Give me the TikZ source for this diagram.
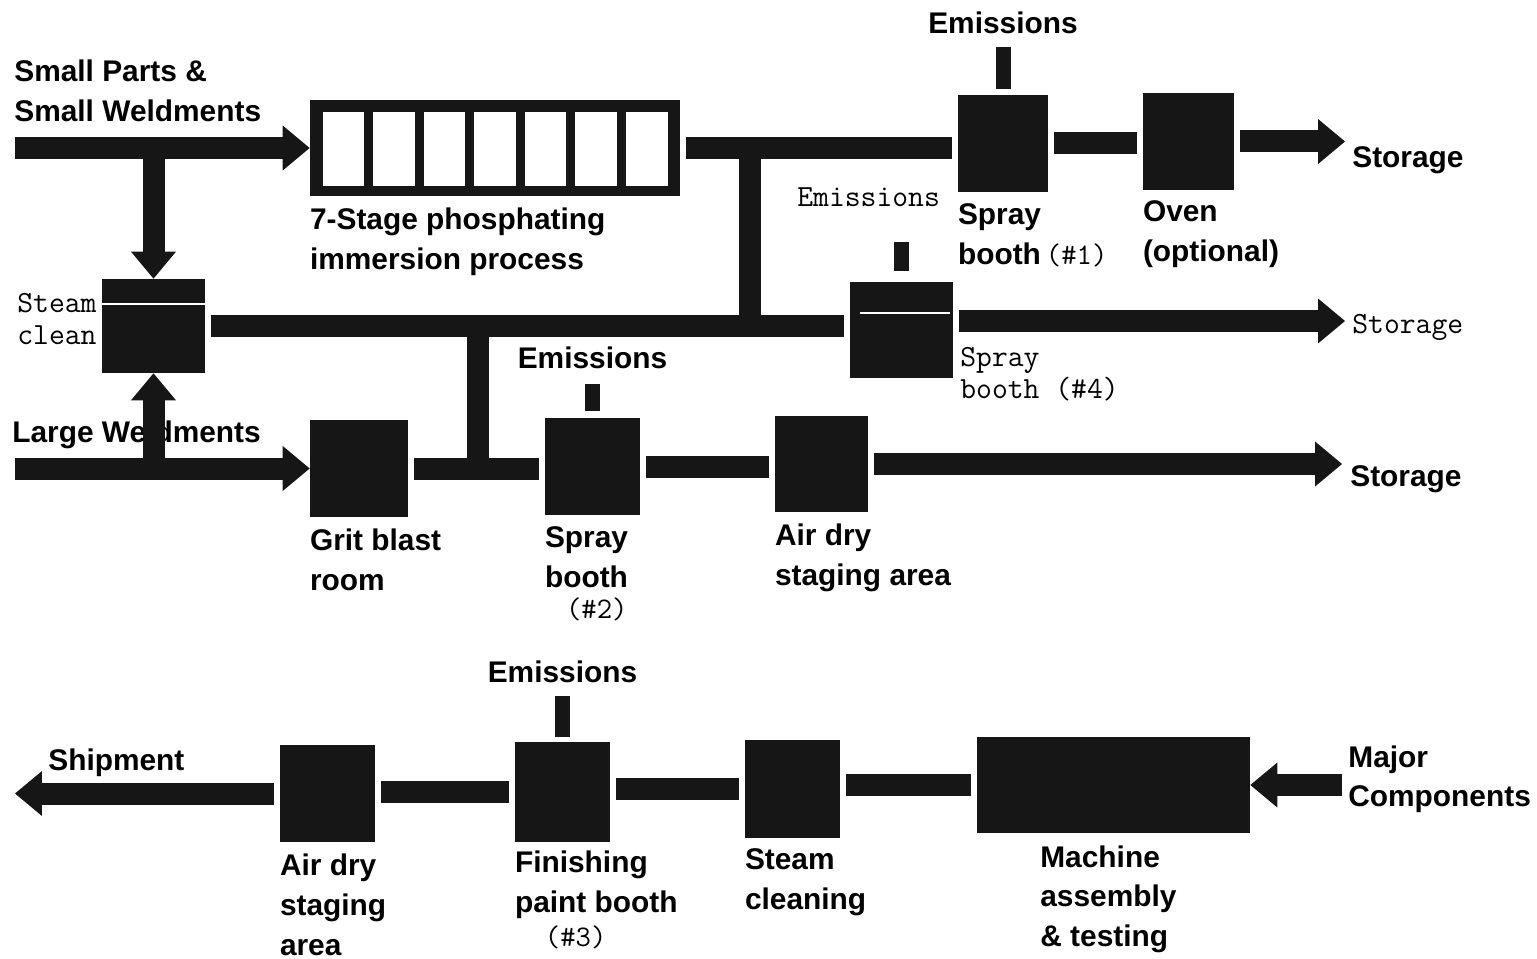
\documentclass[tikz,border=0pt]{standalone}
\usepackage{fontspec}
\setsansfont{Liberation Sans}
\usetikzlibrary{positioning,arrows.meta,calc}
\definecolor{ink}{HTML}{161616}

\begin{document}
\begin{tikzpicture}[x=0.02cm,y=-0.02cm,
  lb/.style={font=\sffamily\bfseries\fontsize{17}{22.7}\selectfont,align=left,inner sep=0pt},
  tl/.style={font=\ttfamily\fontsize{17.5}{18}\selectfont,align=left,inner sep=0pt},
  bx/.style={fill=ink,inner sep=0pt,minimum width=1.9cm,minimum height=1.94cm},
  stk/.style={fill=ink,inner sep=0pt,minimum width=3mm},
  bar/.style={ink,line width=4.4mm},
  ln/.style={bar,shorten <=1.2mm,shorten >=1.2mm},
  ar/.style={bar,-{Triangle[length=5.4mm,width=9mm,line width=0pt]}},
  oar/.style={ar,shorten <=1.2mm}]
\fill[white] (0,0) rectangle (1537,959);
\useasboundingbox (0,0) rectangle (1537,959);

% process units
\node[bx,minimum width=7.4cm] (phos) at (495,148) {};
\foreach \i in {0,...,6}
  \fill[white] ([xshift={(0.26+\i*1.0114)*1cm},yshift=-0.26cm]phos.north west) rectangle ++(0.8314cm,-1.48cm);
\node[bx,minimum width=2.06cm,minimum height=1.88cm] (sc) at (153.5,326) {};
\node[bx,minimum width=1.8cm] (sb1) at (1003,143.5) {};
\node[bx,minimum width=1.82cm] (ov) at (1188.5,141.5) {};
\node[bx,minimum width=2.06cm,minimum height=1.92cm] (sb4) at (901.5,330) {};
\node[bx,minimum width=1.96cm] (gb) at (359,468.5) {};
\node[bx] (sb2) at (592.5,466.5) {};
\node[bx,minimum width=1.86cm,minimum height=1.92cm] (ad1) at (821.5,464) {};
\node[bx] (ad2) at (327.5,793.5) {};
\node[bx,minimum height=2cm] (fb) at (562.5,792) {};
\node[bx,minimum height=1.96cm] (scl) at (792.5,789) {};
\node[bx,minimum width=5.46cm,minimum height=1.92cm] (ma) at (1113.5,785) {};
\draw[white,line width=1.2pt] ([yshift=-5mm]sc.north west) -- ([yshift=-5mm]sc.north east);
\draw[white,line width=1.2pt] ([xshift=2mm,yshift=-6.2mm]sb4.north west) -- ([xshift=-.6mm,yshift=-6.2mm]sb4.north east);

% stacks
\node[stk,minimum height=8.4mm,above=1mm of sb1] (e1) {};
\node[stk,minimum height=5.8mm,above=2mm of sb4] (e4) {};
\node[stk,minimum height=5.4mm,above=1.2mm of sb2] (e2) {};
\node[stk,minimum height=8.2mm,above=.8mm of fb] (e3) {};
\node[lb,above=2.6mm of e1] (e1l) {Emissions};
\node[tl,anchor=west] (e4l) at (797,197) {Emissions};
\node[lb,above=3mm of e2] (e2l) {Emissions};
\node[lb,above=2.6mm of e3] (e3l) {Emissions};

% labels
\node[lb,anchor=north west] (spw) at (14,60) {Small Parts \&\\Small Weldments};
\node[lb,anchor=north west] (lw) at (12,421) {Large Weldments};
\node[tl,anchor=north west] (scl0) at (17,293) {Steam\\clean};
\node[lb,below=2.2mm of phos.south west,anchor=north west] (phosl) {7-Stage phosphating\\immersion process};
\node[lb,below=2.2mm of sb1.south west,anchor=north west] (sb1l) {Spray\\booth\,{\mdseries\ttfamily(\#1)}};
\node[lb,below=2mm of ov.south west,anchor=north west] (ovl) {Oven\\(optional)};
\node[tl,anchor=north west] (sb4l) at (960,347) {Spray\\booth (\#4)};
\node[lb,below=2.2mm of gb.south west,anchor=north west] (gbl) {Grit blast\\room};
\node[lb,below=2.2mm of sb2.south west,anchor=north west] (sb2l) {Spray\\booth\\[-5pt]\hspace*{12pt}{\mdseries\ttfamily(\#2)}};
\node[lb,below=2.2mm of ad1.south west,anchor=north west] (ad1l) {Air dry\\staging area};
\node[lb,anchor=base west] (st1l) at (1352,168) {Storage};
\node[tl,anchor=base west] (st2l) at (1352,334) {Storage};
\node[lb,anchor=base west] (st3l) at (1350,486) {Storage};
\node[lb,anchor=north west] (shl) at (48,748) {Shipment};
\node[lb,below=2.2mm of ad2.south west,anchor=north west] (ad2l) {Air dry\\staging\\area};
\node[lb,below=1.6mm of fb.south west,anchor=north west] (fbl) {Finishing\\paint booth\\[-3pt]\hspace*{17pt}{\mdseries\ttfamily(\#3)}};
\node[lb,below=2mm of scl.south west,anchor=north west] (scll) {Steam\\cleaning};
\node[lb,anchor=north west] (mal) at (1040,845) {Machine\\assembly\\\& testing};
\node[lb,anchor=north west] (mjl) at (1348,745) {Major\\Components};

% flow bars
\coordinate (spin) at (15,148);
\coordinate (lwin) at (15,468.5);
\coordinate (tee1) at (750,148);
\coordinate (tee2) at (478,326);
\coordinate (st1) at (1345,141.5);
\coordinate (st2) at (1345,321);
\coordinate (st3) at (1342,464);
\coordinate (ship) at (15,793.5);
\coordinate (mjin) at (1342,785);
\draw[ar] (spin) -- (phos.west);
\draw[ar] (sc.north |- spin) -- (sc.north);
\draw[ar] (lwin) -- (gb.west);
\draw[ar] (sc.south |- lwin) -- (sc.south);
\draw[ln] (phos.east) -- (phos.east -| sb1.west);
\draw[bar] (tee1) -- (tee1 |- sc.east);
\draw[ln] (sc.east) -- (sc.east -| sb4.west);
\draw[bar] (tee2) -- (tee2 |- gb.east);
\draw[ln] (sb1.east) -- (sb1.east -| ov.west);
\draw[oar] (ov.east) -- (st1);
\draw[oar] (sb4.east |- st2) -- (st2);
\draw[ln] (gb.east) -- (gb.east -| sb2.west);
\draw[ln] (sb2.east) -- (sb2.east -| ad1.west);
\draw[oar] (ad1.east) -- (st3);
\draw[ar] (mjin) -- (ma.east);
\draw[ln] (ma.west) -- (ma.west -| scl.east);
\draw[ln] (scl.west) -- (scl.west -| fb.east);
\draw[ln] (fb.west) -- (fb.west -| ad2.east);
\draw[oar] (ad2.west) -- (ship);
\end{tikzpicture}
\end{document}
